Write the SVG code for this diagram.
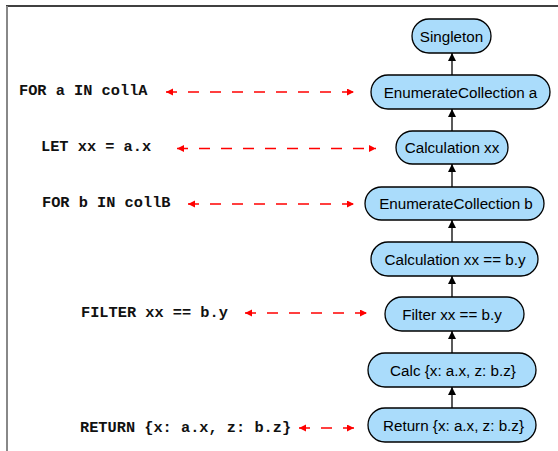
<svg xmlns="http://www.w3.org/2000/svg" width="558" height="451" viewBox="0 0 558 451">
<style>
.node rect{fill:#aadcfb;stroke:#000;stroke-width:1.3}
.node text{font-family:"Liberation Sans",Arial,sans-serif;font-size:15.2px;fill:#000;text-anchor:middle}
.code{font-family:"Liberation Mono","Courier New",monospace;font-weight:bold;font-size:15.3px;fill:#111}
.flow{stroke:#000;stroke-width:1.3;fill:none;marker-end:url(#blk)}
.map{stroke:#f00;stroke-width:1.6;fill:none;stroke-dasharray:11 11;marker-start:url(#red);marker-end:url(#red)}
</style>
<defs>
<marker id="blk" markerUnits="userSpaceOnUse" markerWidth="10" markerHeight="10" refX="8" refY="4" orient="auto">
<path d="M0,0 L8,4 L0,8 z" fill="#000"/>
</marker>
<marker id="red" markerUnits="userSpaceOnUse" markerWidth="10" markerHeight="10" refX="7" refY="3.5" orient="auto-start-reverse">
<path d="M0,0 L7,3.5 L0,7 z" fill="#f00"/>
</marker>
</defs>
<rect x="0" y="0" width="558" height="451" fill="#fff"/>
<line x1="6" y1="6" x2="558" y2="6" stroke="#000" stroke-width="1.4"/>
<line x1="7" y1="6" x2="7" y2="451" stroke="#888" stroke-width="2"/>

<g id="code-labels">
<text class="code" x="19" y="95">FOR a IN collA</text>
<text class="code" x="41" y="151">LET xx = a.x</text>
<text class="code" x="42" y="207">FOR b IN collB</text>
<text class="code" x="81" y="316.5">FILTER xx == b.y</text>
<text class="code" x="80" y="431.5">RETURN {x: a.x, z: b.z}</text>
</g>

<g id="node-singleton" class="node"><rect x="412" y="19" width="79" height="34" rx="17"/><text x="451.5" y="41.5">Singleton</text></g>
<g id="node-enum-a" class="node"><rect x="371" y="75" width="179" height="34" rx="17"/><text x="460.5" y="97.5">EnumerateCollection a</text></g>
<g id="node-calc-xx" class="node"><rect x="396" y="131" width="112" height="33" rx="16.5"/><text x="452" y="153">Calculation xx</text></g>
<g id="node-enum-b" class="node"><rect x="365" y="187" width="179" height="33" rx="16.5"/><text x="456" y="209">EnumerateCollection b</text></g>
<g id="node-calc-eq" class="node"><rect x="371" y="242" width="167" height="34" rx="17"/><text x="455" y="264.5">Calculation xx == b.y</text></g>
<g id="node-filter" class="node"><rect x="385" y="297" width="139" height="34" rx="17"/><text x="452" y="319.5">Filter xx == b.y</text></g>
<g id="node-calc-obj" class="node"><rect x="368" y="353" width="168" height="34" rx="17"/><text x="453" y="375.5">Calc {x: a.x, z: b.z}</text></g>
<g id="node-return" class="node"><rect x="368" y="408" width="168" height="34" rx="17"/><text x="453.5" y="430.5">Return {x: a.x, z: b.z}</text></g>

<g id="connectors">
<line class="flow" x1="452" y1="75" x2="452" y2="53"/>
<line class="flow" x1="452" y1="131" x2="452" y2="109"/>
<line class="flow" x1="452" y1="187" x2="452" y2="164"/>
<line class="flow" x1="452" y1="242" x2="452" y2="220"/>
<line class="flow" x1="452" y1="297" x2="452" y2="276"/>
<line class="flow" x1="452" y1="353" x2="452" y2="331"/>
<line class="flow" x1="452" y1="408" x2="452" y2="387"/>
<line class="map" x1="166" y1="92" x2="354" y2="92"/>
<line class="map" x1="177" y1="148.5" x2="376" y2="148.5"/>
<line class="map" x1="188" y1="204" x2="354" y2="204"/>
<line class="map" x1="245" y1="313" x2="367" y2="313"/>
<line class="map" x1="299" y1="428" x2="354" y2="428"/>
</g>
</svg>
